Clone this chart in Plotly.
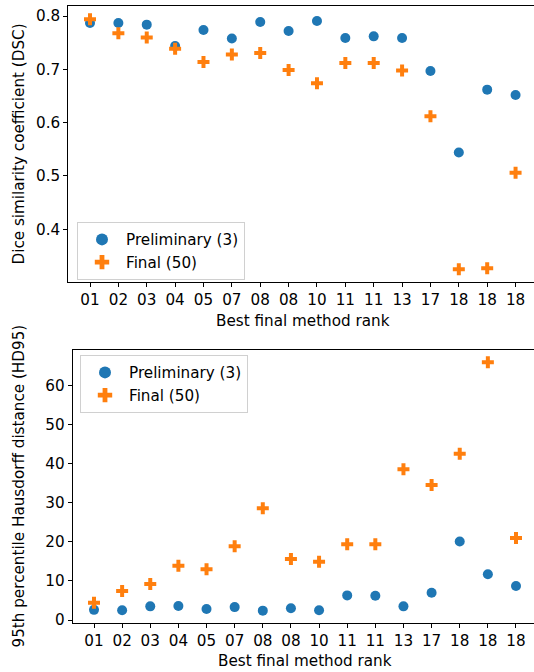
import plotly.graph_objects as go

ranks = ["01", "02", "03", "04", "05", "07", "08", "08", "10", "11", "11", "13", "17", "18", "18", "18"]
dsc_prelim = [0.787, 0.787, 0.784, 0.744, 0.774, 0.758, 0.789, 0.772, 0.791, 0.759, 0.762, 0.759, 0.697, 0.544, 0.662, 0.652]
dsc_final = [0.794, 0.768, 0.760, 0.739, 0.714, 0.728, 0.731, 0.699, 0.674, 0.712, 0.712, 0.698, 0.612, 0.325, 0.327, 0.506]
hd_prelim = [2.6, 2.5, 3.5, 3.6, 2.8, 3.3, 2.4, 3.0, 2.5, 6.3, 6.2, 3.5, 7.0, 20.1, 11.7, 8.7]
hd_final = [4.4, 7.4, 9.2, 13.9, 13.0, 18.9, 28.6, 15.6, 14.9, 19.4, 19.4, 38.6, 34.6, 42.6, 66.0, 21.0]
legend_names = ["Preliminary (3)", "Final (50)"]

W, H = 534, 672
BLUE = "#1f77b4"
ORANGE = "#ff7f0e"
FONT = "DejaVu Sans"
FS = 15.2

xs = list(range(len(ranks)))
fig = go.Figure()

def add(y, name, color, symbol, size, xa, ya, legend):
    fig.add_trace(go.Scatter(
        x=xs, y=y, mode="markers", name=name,
        marker=dict(color=color, symbol=symbol, size=size, line=dict(width=0)),
        xaxis=xa, yaxis=ya, legend=legend, showlegend=True))

add(dsc_prelim, legend_names[0], BLUE, "circle", 10, "x", "y", "legend")
add(dsc_final, legend_names[1], ORANGE, "cross", 10, "x", "y", "legend")
add(hd_prelim, legend_names[0], BLUE, "circle", 10, "x2", "y2", "legend2")
add(hd_final, legend_names[1], ORANGE, "cross", 10, "x2", "y2", "legend2")

def px_x(p):
    return p / W

def px_y(p):
    return 1 - p / H

axis_common = dict(
    showgrid=False, zeroline=False, showline=True, linecolor="black", linewidth=1,
    ticks="outside", ticklen=4, tickwidth=1, tickcolor="black", automargin=False,
    tickfont=dict(family=FONT, size=FS, color="black"),
)

legend_common = dict(
    xanchor="left", yanchor="top",
    bgcolor="rgba(255,255,255,0.8)", bordercolor="#d0d0d0", borderwidth=1,
    font=dict(family=FONT, size=FS, color="black"), itemsizing="constant", itemwidth=38,
)

ann_common = dict(xref="paper", yref="paper", showarrow=False, xanchor="center", yanchor="middle",
                  font=dict(family=FONT, size=FS, color="black"))

fig.update_layout(
    template="none",
    width=W, height=H, autosize=False,
    margin=dict(l=0, r=0, t=0, b=0, pad=0, autoexpand=False),
    paper_bgcolor="white", plot_bgcolor="white",
    font=dict(family=FONT, size=FS, color="black"),
    xaxis=dict(axis_common, domain=[px_x(68.3), 1], range=[-0.765, 15.65],
               tickmode="array", tickvals=xs, ticktext=ranks, mirror=True, anchor="y"),
    yaxis=dict(axis_common, domain=[px_y(282), px_y(6)], range=[0.301, 0.819],
               tickmode="array", tickvals=[0.4, 0.5, 0.6, 0.7, 0.8],
               ticktext=["0.4", "0.5", "0.6", "0.7", "0.8"], anchor="x"),
    xaxis2=dict(axis_common, domain=[px_x(72.7), 1], range=[-0.757, 15.64],
                tickmode="array", tickvals=xs, ticktext=ranks, mirror=True, anchor="y2"),
    yaxis2=dict(axis_common, domain=[px_y(622.7), px_y(350)], range=[-0.69, 69.15],
                tickmode="array", tickvals=[0, 10, 20, 30, 40, 50, 60], anchor="x2"),
    legend=dict(legend_common, x=px_x(77), y=px_y(222)),
    legend2=dict(legend_common, x=px_x(80), y=px_y(355)),
    annotations=[
        dict(ann_common, text="Best final method rank", x=px_x(68.3 + (W + 3 - 68.3) / 2), y=px_y(321)),
        dict(ann_common, text="Best final method rank", x=px_x(72.7 + (W + 3 - 72.7) / 2), y=px_y(661)),
        dict(ann_common, text="Dice similarity coefficient (DSC)", x=px_x(18.5), y=px_y(144), textangle=-90),
        dict(ann_common, text="95th percentile Hausdorff distance (HD95)", x=px_x(18.5), y=px_y(486), textangle=-90),
    ],
)

fig.write_html(
    "out.html",
    config={"displayModeBar": False},
    post_script=(
        "var s=document.documentElement.style;s.margin='0';s.padding='0';s.overflow='hidden';"
        "s.height='672px';s.width='534px';"
        "var b=document.body.style;b.margin='0';b.padding='0';b.overflow='hidden';"
        "b.height='672px';b.width='534px';"
    ),
)
